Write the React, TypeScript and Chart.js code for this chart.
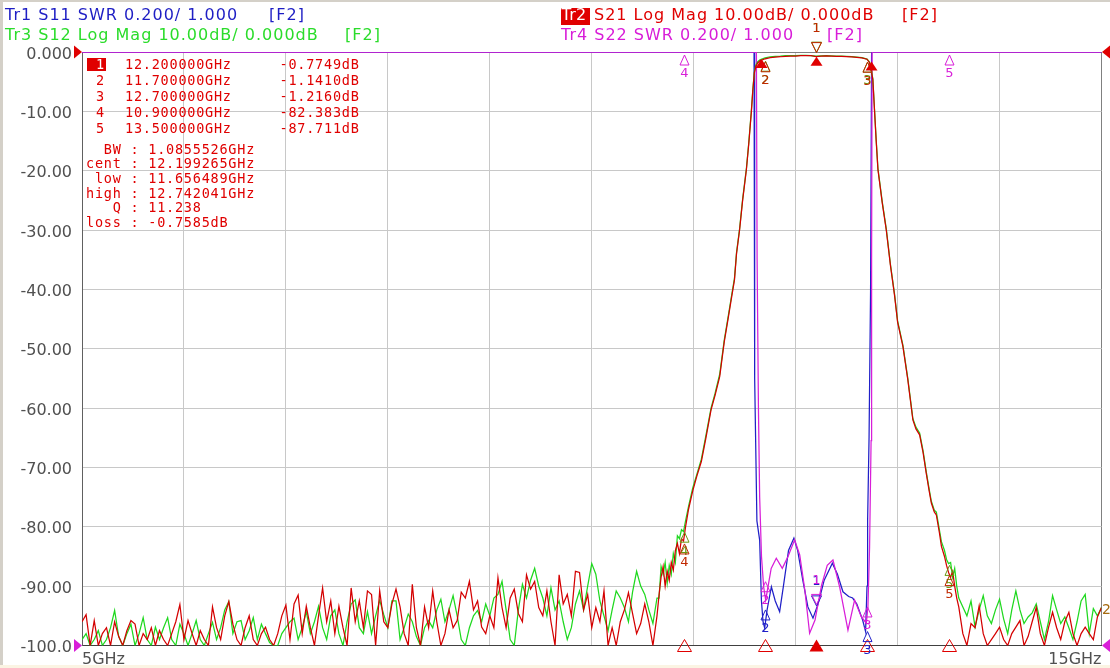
import { useEffect, useRef } from 'react';
import { Chart, registerables } from 'chart.js';

Chart.register(...registerables);

// ---------------- Data ----------------
const xLabelValues = [5, 15];
const xLabelTexts = ['5GHz', '15GHz'];
const yTickLabels = ['-100.0', '-90.00', '-80.00', '-70.00', '-60.00', '-50.00', '-40.00', '-30.00', '-20.00', '-10.00', '0.000'];

// noise floor sample grid (GHz)
const noiseLoStart = 5.0;
const noiseHiStart = 13.64;
const noiseStep = 0.04;

// S21 (Tr2, red) dB, 5.00 .. 10.64 GHz
const s21NoiseLo = [
  -96, -94.8, -100, -95.8, -100, -98, -97, -100, -96, -98.5,
  -100, -97.5, -95.8, -96.4, -100, -98, -99, -97, -100, -97.5,
  -99, -100, -98, -96, -93.1, -99, -95.8, -98, -100, -97.5,
  -99, -100, -93.5, -97, -99, -95, -92.6, -96.4, -99, -100,
  -97, -95, -99, -100, -98, -96.9, -99, -100, -98, -95,
  -93.2, -99, -93, -91.5, -98, -93.4, -97, -100, -95, -90.3,
  -96, -92.5, -98, -93.4, -97, -100, -90.3, -96, -92.5, -97,
  -90.8, -91.4, -100, -90.8, -96, -97, -93, -90.5, -93.5, -98,
  -100, -89.7, -97, -100, -93.5, -97, -90.8, -96, -100, -98,
  -94, -97, -95.8, -91, -92, -89.2, -94, -92.5, -96.9, -98,
  -95, -97, -88.6, -93.6, -97, -92, -90.5, -94.6, -96, -88.1,
  -90.5, -89.2, -93.6, -95, -90.8, -96, -100, -88.1, -93, -91.4,
  -95, -87.5, -87.7, -94, -91.4, -97, -93.6, -96, -90.8, -100,
  -97, -100, -96, -94, -91.1, -94.6, -98, -96.3, -93, -96,
  -100, -95,
];

// S12 (Tr3, green) dB, 5.00 .. 10.64 GHz
const s12NoiseLo = [
  -99, -98, -100, -99, -97.5, -100, -99, -97, -94.1, -98.5,
  -100, -98, -96.4, -100, -98, -95.3, -99, -100, -96.9, -99,
  -97, -95.3, -99, -100, -96.4, -98, -100, -98, -95.8, -99,
  -100, -98, -96.1, -99, -97, -94, -92.6, -98, -96, -95.8,
  -99, -97.5, -95.3, -99, -96.4, -98, -99.5, -100, -100, -98,
  -97, -96, -95.4, -99, -97, -94.3, -98, -96, -93.4, -97,
  -99, -95, -94, -98, -100, -96, -93, -92.3, -97, -98,
  -94.3, -98, -95, -92.4, -94.8, -97, -92.5, -92.5, -99, -97,
  -94.7, -96, -98.5, -100, -97, -95.8, -97, -94, -92.2, -96,
  -94, -91.6, -95, -99, -100, -97, -95, -94.1, -96, -93,
  -95, -92, -91.4, -89.2, -94, -99, -100, -94, -89.7, -92,
  -89, -87, -90, -92, -95, -90.3, -94, -92.5, -96, -99,
  -97, -93, -90.8, -94, -90, -86.2, -88, -92.5, -95, -97.5,
  -94, -90.8, -92, -93.6, -96, -91, -87.5, -90, -91.4, -94,
  -96.3, -92,
];

// skirts and passband (GHz)
const skirtFreq = [
  10.66, 10.68, 10.70, 10.72, 10.74, 10.76, 10.78, 10.80, 10.82, 10.84, 10.86, 10.88, 10.90, 10.92,
  10.95, 10.99, 11.03, 11.075, 11.12, 11.17, 11.21, 11.255, 11.30, 11.336,
  11.37, 11.40, 11.42, 11.45, 11.48, 11.517, 11.54, 11.566, 11.58, 11.595,
  11.61, 11.63, 11.65, 11.70, 11.75, 11.80, 11.85, 11.90, 11.95, 12.00,
  12.05, 12.10, 12.15, 12.20, 12.25, 12.30, 12.35, 12.40, 12.45, 12.50,
  12.55, 12.60, 12.65, 12.70, 12.725, 12.74, 12.757, 12.774, 12.79, 12.807,
  12.85, 12.889, 12.93, 12.97, 13.00, 13.052, 13.10, 13.15, 13.18, 13.216,
  13.25, 13.281, 13.31, 13.331, 13.36, 13.38, 13.41, 13.43, 13.46, 13.48,
  13.50, 13.52, 13.54, 13.56, 13.58, 13.60,
];
const s21SkirtDb = [
  -91.5, -88.5, -86.7, -90, -87.5, -89, -86, -87.3, -84, -82.8, -84.5, -82, -82.4, -80,
  -77, -74, -71.5, -69, -65, -60.3, -57.8, -54.7, -48.8, -45.1,
  -41.5, -38.4, -34, -30, -25, -19.8, -15.5, -10, -6.5, -3.5,
  -2.4, -1.8, -1.5, -1.14, -0.95, -0.85, -0.8, -0.72, -0.7, -0.68,
  -0.62, -0.6, -0.62, -0.775, -0.7, -0.66, -0.7, -0.74, -0.75, -0.78,
  -0.82, -0.9, -1.0, -1.216, -1.8, -3, -4.6, -10, -15, -19.8,
  -25.5, -30, -36, -41, -45.5, -49.6, -55.2, -62, -63.5, -64.5,
  -67.5, -71, -74, -76, -77.5, -78, -81, -83.3, -85, -86.5,
  -87.7, -88.5, -87.5, -90, -92, -93.5,
];
const s12SkirtDb = [
  -92, -86.7, -88, -86, -89.5, -86.5, -88, -84.5, -86, -81.5, -82, -80.5, -80.8, -79,
  -76.5, -73.5, -71.2, -68.6, -64.6, -60, -57.5, -54.3, -48.5, -44.8,
  -41.2, -38.1, -33.8, -29.8, -24.8, -19.6, -15.3, -9.8, -6.3, -3.3,
  -2.2, -1.6, -1.3, -1.0, -0.8, -0.72, -0.68, -0.62, -0.6, -0.62,
  -0.58, -0.56, -0.6, -0.7, -0.66, -0.62, -0.66, -0.7, -0.7, -0.74,
  -0.78, -0.85, -0.96, -1.2, -1.7, -2.9, -4.5, -9.8, -14.8, -19.6,
  -25.3, -29.8, -35.8, -40.8, -45.3, -49.4, -55, -61.8, -63.2, -64.2,
  -67.2, -70.7, -73.7, -75.7, -77.2, -77.5, -80.5, -82.5, -84, -85.5,
  -86.2, -86, -88.5, -87, -90, -92,
];

// 13.64 .. 15.00 GHz
const s21NoiseHi = [
  -98, -100, -96.3, -97, -93.3, -98, -100, -99, -98, -96.9,
  -99, -100, -98, -96.9, -95.8, -100, -98.5, -96, -93.6, -98,
  -100, -97, -94.4, -97, -99, -96, -94.4, -98, -100, -98,
  -96.9, -98, -99, -95.2, -93.6,
];
const s12NoiseHi = [
  -93.5, -95, -92.5, -96.9, -94, -91.6, -95, -96.3, -94, -92.2,
  -95.5, -98, -94, -90.8, -94, -96.3, -95.2, -94.5, -93, -96,
  -99, -96, -91.6, -94, -96.3, -95.2, -97, -99, -96, -92.5,
  -91.4, -98, -93.8, -95, -93.6,
];

// S11 (Tr1, blue) SWR, display clamps at 3.000
const s11Freq = [
  5.0, 11.592, 11.598, 11.62, 11.647, 11.664, 11.68, 11.696, 11.72, 11.762,
  11.80, 11.843, 11.88, 11.93, 11.983, 12.02, 12.07, 12.12, 12.17, 12.22,
  12.28, 12.36, 12.41, 12.464, 12.52, 12.559, 12.60, 12.657, 12.686, 12.70,
  12.706, 12.72, 12.735, 12.745, 15.0,
];
const s11Swr = [
  3.0, 3.0, 1.9, 1.42, 1.355, 1.153, 1.08, 1.059, 1.12, 1.198,
  1.15, 1.114, 1.2, 1.32, 1.362, 1.32, 1.22, 1.13, 1.092, 1.14,
  1.22, 1.277, 1.24, 1.181, 1.165, 1.16, 1.14, 1.086, 1.047, 1.2,
  1.42, 1.7, 2.2, 3.0, 3.0,
];

// S22 (Tr4, magenta) SWR
const s22Freq = [
  5.0, 11.615, 11.622, 11.635, 11.647, 11.665, 11.686, 11.706, 11.73, 11.76,
  11.81, 11.869, 11.925, 11.99, 12.04, 12.09, 12.137, 12.19, 12.255, 12.31,
  12.366, 12.431, 12.513, 12.578, 12.644, 12.693, 12.709, 12.725, 12.74, 12.745,
  12.75, 15.0,
];
const s22Swr = [
  3.0, 3.0, 2.3, 1.8, 1.5, 1.3, 1.198, 1.153, 1.2, 1.26,
  1.294, 1.26, 1.30, 1.356, 1.305, 1.187, 1.041, 1.086, 1.204, 1.27,
  1.288, 1.198, 1.052, 1.153, 1.097, 1.075, 1.13, 1.33, 1.69, 2.3,
  3.0, 3.0,
];

// markers
const markerFreq = [12.2, 11.7, 12.7, 10.9, 13.5];
const s21MarkerDb = [-0.7749, -1.141, -1.216, -82.383, -87.711];
const s12MarkerDb = [-0.70, -1.05, -1.20, -80.4, -86.0];
const s11MarkerSwr: (number | null)[] = [1.12, 1.13, 1.057, null, null];
const s22MarkerSwr: (number | null)[] = [1.125, 1.225, 1.14, 3.0, 3.0];
const bwFreq = [11.656489, 12.199265, 12.742041];
const bwMarkerDb = [-1.2, -0.78, -1.6];
const traceEndLabelDb = -94.0;

// texts
const headerTr1 = 'Tr1 S11 SWR 0.200/ 1.000';
const headerTr3 = 'Tr3 S12 Log Mag 10.00dB/ 0.000dB';
const headerTr2Tag = 'Tr2';
const headerTr2 = 'S21 Log Mag 10.00dB/ 0.000dB';
const headerTr4 = 'Tr4 S22 SWR 0.200/ 1.000';
const channelTag = '[F2]';
const markerNums = ['1', '2', '3', '4', '5'];
const markerFreqText = ['12.200000GHz', '11.700000GHz', '12.700000GHz', '10.900000GHz', '13.500000GHz'];
const markerValText = ['-0.7749dB', '-1.1410dB', '-1.2160dB', '-82.383dB', '-87.711dB'];
const bwLines = ['  BW : 1.0855526GHz', 'cent : 12.199265GHz', ' low : 11.656489GHz', 'high : 12.742041GHz', '   Q : 11.238', 'loss : -0.7585dB'];

// colours
const RED = '#d40000';
const GREEN = '#1ed81e';
const BLUE = '#2020c8';
const MAGENTA = '#d81ed8';
const TXT_BLUE = '#1e1ec4';
const TXT_GREEN = '#2bdc2b';
const TXT_RED = '#e00000';
const TXT_MAGENTA = '#d81cd8';

// ---------------- helpers ----------------
const gridPoints = (start: number, step: number, vals: number[]) =>
  vals.map((v, i) => ({ x: +(start + i * step).toFixed(4), y: v }));
const pairPoints = (freqs: number[], vals: number[]) => freqs.map((f, i) => ({ x: f, y: vals[i] }));

const s21Points = [
  ...gridPoints(noiseLoStart, noiseStep, s21NoiseLo),
  ...pairPoints(skirtFreq, s21SkirtDb),
  ...gridPoints(noiseHiStart, noiseStep, s21NoiseHi),
];
const s12Points = [
  ...gridPoints(noiseLoStart, noiseStep, s12NoiseLo),
  ...pairPoints(skirtFreq, s12SkirtDb),
  ...gridPoints(noiseHiStart, noiseStep, s12NoiseHi),
];
const s11Points = pairPoints(s11Freq, s11Swr);
const s22Points = pairPoints(s22Freq, s22Swr);

const vnaPlugin = {
  id: 'vnaDecor',
  beforeDraw(chart: any) {
    const { ctx, width, height } = chart;
    ctx.save();
    ctx.fillStyle = '#ffffff';
    ctx.fillRect(0, 0, width, height);
    ctx.fillStyle = '#d4d0c8';
    ctx.fillRect(0, 0, 3, height);
    ctx.fillRect(0, 0, width, 2);
    ctx.fillStyle = '#fbf4e3';
    ctx.fillRect(0, 665, width, height - 665);
    ctx.restore();
  },
  afterDatasetsDraw(chart: any) {
    const { ctx, chartArea: a, scales } = chart;
    const xs = scales.x, ys = scales.y, y2 = scales.y2;
    const px = (f: number) => Math.round(xs.getPixelForValue(f)) + 0.5;
    ctx.save();
    ctx.lineWidth = 1;
    ctx.textAlign = 'center';
    ctx.textBaseline = 'middle';
    ctx.font = '13px "DejaVu Sans"';

    const tri = (cx: number, apexY: number, w: number, h: number, dir: number, color: string, fill: boolean) => {
      ctx.beginPath();
      ctx.moveTo(cx, apexY);
      ctx.lineTo(cx - w / 2, apexY + dir * h);
      ctx.lineTo(cx + w / 2, apexY + dir * h);
      ctx.closePath();
      if (fill) { ctx.fillStyle = color; ctx.fill(); }
      else { ctx.strokeStyle = color; ctx.stroke(); }
    };

    // stimulus markers along the bottom edge
    markerFreq.forEach((f, i) => tri(px(f), a.bottom - 6, 14, 12, 1, TXT_RED, i === 0));

    const drawMarkers = (vals: (number | null)[], scale: any, color: string) => {
      vals.forEach((v, i) => {
        if (v === null || v === undefined) return;
        const cx = px(markerFreq[i]);
        const py = scale.getPixelForValue(v);
        if (i === 0) {
          const apex = py - 4;
          tri(cx, apex, 10, 10, -1, color, false);
          ctx.fillStyle = color;
          ctx.fillText(markerNums[i], cx, apex - 24);
        } else {
          const apex = py + 3;
          tri(cx, apex, 9, 10, 1, color, false);
          ctx.fillStyle = color;
          ctx.fillText(markerNums[i], cx, apex + 19);
        }
      });
    };
    drawMarkers(s11MarkerSwr, y2, BLUE);
    drawMarkers(s22MarkerSwr, y2, MAGENTA);
    drawMarkers(s12MarkerDb, ys, '#6a9a10');
    drawMarkers(s21MarkerDb, ys, '#c02800');

    // bandwidth search markers (filled)
    bwFreq.forEach((f, i) => tri(px(f), ys.getPixelForValue(bwMarkerDb[i]), 12, 9, 1, TXT_RED, true));

    // reference position arrows
    const yTop = ys.getPixelForValue(0);
    const ySwrRef = y2.getPixelForValue(1.0);
    const arrow = (tipX: number, tipY: number, dir: number, color: string) => {
      ctx.beginPath();
      ctx.moveTo(tipX, tipY);
      ctx.lineTo(tipX - dir * 8, tipY - 6.5);
      ctx.lineTo(tipX - dir * 8, tipY + 6.5);
      ctx.closePath();
      ctx.fillStyle = color;
      ctx.fill();
    };
    arrow(a.left, yTop, 1, TXT_RED);
    arrow(a.left, ySwrRef, 1, MAGENTA);
    arrow(a.right + 0.5, yTop, -1, TXT_RED);
    arrow(a.right + 0.5, ySwrRef, -1, MAGENTA);

    // trace end label
    ctx.font = '14px "DejaVu Sans"';
    ctx.fillStyle = '#a46a10';
    ctx.fillText('2', a.right + 5, ys.getPixelForValue(traceEndLabelDb));
    ctx.restore();
  },
};

const headerStyle = (left: number, top: number, color: string, spacing = 1.0): any => ({
  position: 'absolute', left, top, color, font: '16px "DejaVu Sans"', letterSpacing: spacing + 'px',
  lineHeight: '16px', whiteSpace: 'pre',
});
const monoStyle = (left: number, top: number, color: string): any => ({
  position: 'absolute', left, top, color, font: '13.5px "DejaVu Sans Mono"', letterSpacing: '0.77px',
  lineHeight: '16px', whiteSpace: 'pre',
});

export default function App() {
  const canvasRef = useRef<HTMLCanvasElement | null>(null);

  useEffect(() => {
    const canvas = canvasRef.current;
    if (!canvas) return;
    const gridColorX = (c: any) => (c.tick && c.tick.value === 15 ? '#808080' : c.tick && c.tick.value === 5 ? '#606060' : '#c8c8c8');
    const gridColorY = (c: any) => (c.tick && c.tick.value === 0 ? '#808080' : c.tick && c.tick.value === -100 ? '#404040' : '#c8c8c8');
    const chart = new Chart(canvas, {
      type: 'line',
      data: {
        datasets: [
          { label: 'S21', data: s21Points, borderColor: RED, borderWidth: 1.25, pointRadius: 0, yAxisID: 'y' },
          { label: 'S12', data: s12Points, borderColor: GREEN, borderWidth: 1.25, pointRadius: 0, yAxisID: 'y' },
          { label: 'S22', data: s22Points, borderColor: MAGENTA, borderWidth: 1.25, pointRadius: 0, yAxisID: 'y2' },
          { label: 'S11', data: s11Points, borderColor: BLUE, borderWidth: 1.25, pointRadius: 0, yAxisID: 'y2' },
        ],
      },
      options: {
        responsive: false,
        animation: false,
        events: [],
        layout: { padding: { top: 52, right: 8.5, bottom: 0, left: 0 } },
        plugins: { legend: { display: false }, tooltip: { enabled: false } },
        elements: { line: { tension: 0 } },
        scales: {
          x: {
            type: 'linear',
            min: 5,
            max: 15,
            afterFit: (s: any) => { s.height = 22.5; },
            grid: { color: gridColorX, drawTicks: false, lineWidth: 1 },
            border: { color: '#404040', width: 1 },
            ticks: {
              stepSize: 1,
              autoSkip: false,
              maxRotation: 0,
              align: 'inner',
              padding: 5,
              color: '#505050',
              font: { family: 'DejaVu Sans', size: 16 },
              callback: (v: any) => {
                const k = xLabelValues.indexOf(Number(v));
                return k >= 0 ? xLabelTexts[k] : '';
              },
            },
          },
          y: {
            type: 'linear',
            position: 'left',
            min: -100,
            max: 0,
            afterFit: (s: any) => { s.width = 82; },
            grid: { color: gridColorY, drawTicks: false, lineWidth: 1 },
            border: { color: '#606060', width: 1 },
            ticks: {
              stepSize: 10,
              padding: 10,
              labelOffset: 2.5,
              color: '#505050',
              font: { family: 'DejaVu Sans', size: 16 },
              callback: (_v: any, i: number) => yTickLabels[i],
            },
          },
          y2: {
            type: 'linear',
            position: 'right',
            display: false,
            min: 1,
            max: 3,
          },
        },
      } as any,
      plugins: [vnaPlugin],
    } as any);
    return () => chart.destroy();
  }, []);

  const rowTops = [56.3, 72.3, 88.3, 104.3, 120.3];
  const bwTop = 140.6;
  const bwStep = 14.7;

  return (
    <div style={{ position: 'fixed', left: 0, top: 0, width: 1110, height: 668, overflow: 'hidden', background: '#fff' }}>
      <canvas ref={canvasRef} width={1110} height={668} style={{ position: 'absolute', left: 0, top: 0, width: 1110, height: 668 }} />

      <div style={headerStyle(5, 7, TXT_BLUE)}>{headerTr1}</div>
      <div style={headerStyle(269, 7, TXT_BLUE)}>{channelTag}</div>
      <div style={headerStyle(5, 27, TXT_GREEN)}>{headerTr3}</div>
      <div style={headerStyle(345, 27, TXT_GREEN)}>{channelTag}</div>

      <div style={{ position: 'absolute', left: 561, top: 8, width: 29, height: 17, background: TXT_RED }} />
      <div style={headerStyle(561.5, 7, '#ffffff', 0.3)}>{headerTr2Tag}</div>
      <div style={headerStyle(594, 7, TXT_RED)}>{headerTr2}</div>
      <div style={headerStyle(902, 7, TXT_RED)}>{channelTag}</div>
      <div style={headerStyle(561, 27, TXT_MAGENTA)}>{headerTr4}</div>
      <div style={headerStyle(827, 27, TXT_MAGENTA)}>{channelTag}</div>

      <div style={{ position: 'absolute', left: 87, top: 58, width: 19, height: 13, background: TXT_RED }} />
      {markerNums.map((n, i) => (
        <div key={'n' + i} style={monoStyle(96, rowTops[i], i === 0 ? '#ffffff' : TXT_RED)}>{n}</div>
      ))}
      {markerFreqText.map((t, i) => (
        <div key={'f' + i} style={monoStyle(125, rowTops[i], TXT_RED)}>{t}</div>
      ))}
      {markerValText.map((t, i) => (
        <div key={'v' + i} style={monoStyle(279.5, rowTops[i], TXT_RED)}>{t}</div>
      ))}
      {bwLines.map((t, i) => (
        <div key={'b' + i} style={monoStyle(86, bwTop + i * bwStep, TXT_RED)}>{t}</div>
      ))}
    </div>
  );
}
